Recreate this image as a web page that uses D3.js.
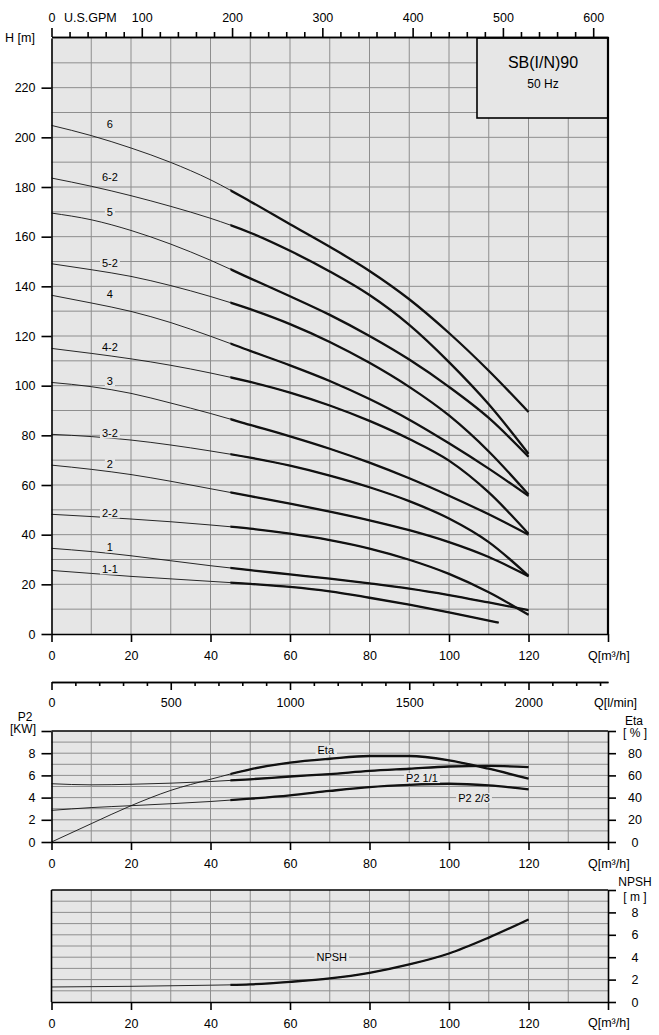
<!DOCTYPE html>
<html>
<head>
<meta charset="utf-8">
<script src="https://cdn.jsdelivr.net/npm/d3@7"></script>
<style>
body { margin: 0; background: #fff; }
svg text { font-family: "Liberation Sans", Arial, sans-serif; fill: #000; }
</style>
</head>
<body>
<div id="chart"></div>
<script>
const flow   = [0, 10, 20, 30, 40, 50, 60, 70, 80, 90, 100, 110, 120];
const flow11 = [0, 10, 20, 30, 40, 50, 60, 70, 80, 90, 100, 110, 112.5];

const head6   = [204.8, 200.7, 195.7, 189.9, 182.9, 174.2, 165.0, 155.9, 146.2, 134.8, 121.2, 106.0, 89.4];
const head6_2 = [183.6, 180.3, 176.5, 172.2, 167.4, 161.6, 154.3, 146.0, 136.5, 124.5, 109.5, 92.5, 72.6];
const head5   = [169.5, 166.8, 162.5, 157.0, 150.5, 143.2, 136.0, 128.5, 120.0, 110.5, 99.5, 87.0, 71.4];
const head5_2 = [149.1, 146.7, 144.0, 140.3, 135.9, 130.8, 124.8, 117.6, 109.2, 99.5, 88.0, 73.5, 56.2];
const head4   = [136.4, 133.3, 129.9, 125.4, 119.9, 114.0, 108.2, 101.9, 94.6, 86.3, 76.8, 66.6, 55.6];
const head4_2 = [115.0, 113.0, 110.8, 108.2, 105.1, 101.5, 97.2, 92.0, 85.8, 78.5, 69.8, 57.0, 40.4];
const head3   = [101.3, 99.6, 96.9, 93.0, 88.8, 84.2, 79.6, 74.6, 69.0, 62.7, 55.7, 48.2, 40.0];
const head3_2 = [80.4, 79.5, 78.1, 76.1, 73.7, 71.0, 67.8, 63.8, 59.1, 53.5, 46.5, 37.0, 23.4];
const head2   = [68.0, 66.3, 64.2, 61.5, 58.5, 55.5, 52.5, 49.3, 45.8, 41.8, 37.0, 31.0, 23.3];
const head2_2 = [48.2, 47.3, 46.3, 45.2, 43.9, 42.4, 40.4, 37.8, 34.4, 29.9, 24.2, 16.8, 7.7];
const head1   = [34.5, 33.2, 31.5, 29.5, 27.5, 25.7, 24.0, 22.3, 20.4, 18.3, 15.7, 12.7, 9.6];
const head1_1 = [25.6, 24.4, 23.2, 22.2, 21.2, 20.2, 19.0, 17.2, 14.6, 11.8, 8.7, 5.4, 4.6];

const curveNames = ["6", "6-2", "5", "5-2", "4", "4-2", "3", "3-2", "2", "2-2", "1", "1-1"];
const curveHeads = [head6, head6_2, head5, head5_2, head4, head4_2, head3, head3_2, head2, head2_2, head1, head1_1];

const eta         = [0, 16.5, 32.7, 46.5, 56.5, 65.5, 71.5, 75.0, 77.5, 77.5, 73.6, 66.0, 57.0];
const p2Full      = [5.25, 5.15, 5.2, 5.3, 5.45, 5.65, 5.9, 6.12, 6.4, 6.6, 6.8, 6.85, 6.75];
const p2TwoThirds = [2.85, 3.1, 3.27, 3.45, 3.65, 3.9, 4.2, 4.6, 4.95, 5.15, 5.25, 5.1, 4.75];
const npsh        = [1.34, 1.37, 1.4, 1.45, 1.5, 1.58, 1.8, 2.1, 2.6, 3.35, 4.33, 5.75, 7.37];

const flowTicks = [0, 20, 40, 60, 80, 100, 120, 140];
const gpmTicks  = [0, 100, 200, 300, 400, 500, 600];
const lpmTicks  = [0, 500, 1000, 1500, 2000];
const headTicks = [0, 20, 40, 60, 80, 100, 120, 140, 160, 180, 200, 220];
const p2Ticks   = [0, 2, 4, 6, 8, 10];
const etaTicks  = [0, 20, 40, 60, 80, 100];
const npshTicks = [0, 2, 4, 6, 8, 10];

const BG = "#e6e6e6";
const GRID = "#8e8e8e";
const FONT = "12.5px";

let svg = d3.select("#chart").append("svg")
    .attr("width", 659)
    .attr("height", 1035);

let x = d3.scaleLinear().domain([0, 140]).range([51.5, 608]);
let gpm = d3.scaleLinear().domain([0, 140 / 0.227125]).range([51.5, 608]);
let lpm = d3.scaleLinear().domain([0, 140 * 1000 / 60]).range([51.5, 608]);

let yHead = d3.scaleLinear().domain([0, 240]).range([634, 38]);
let yP2 = d3.scaleLinear().domain([0, 10]).range([842, 731]);
let yEta = d3.scaleLinear().domain([0, 100]).range([842, 731]);
let yNpsh = d3.scaleLinear().domain([0, 10]).range([1002, 890]);

// clip for the thick (operating range) part of each curve, from 45 m3/h
svg.append("defs").append("clipPath").attr("id", "thick")
    .append("rect")
    .attr("x", x(45)).attr("y", 0)
    .attr("width", x(140) - x(45)).attr("height", 1035);

function panel(yScale, hStep) {
    let y0 = yScale.range()[1], y1 = yScale.range()[0];
    let g = svg.append("g");
    g.append("rect")
        .attr("x", x(0)).attr("y", y0)
        .attr("width", x(140) - x(0)).attr("height", y1 - y0)
        .attr("fill", BG);
    let d = yScale.domain();
    g.selectAll(".hg").data(d3.range(d[0] + hStep, d[1], hStep)).enter()
        .append("line")
        .attr("x1", x(0)).attr("x2", x(140))
        .attr("y1", v => yScale(v)).attr("y2", v => yScale(v))
        .attr("stroke", GRID).attr("stroke-width", 1);
    g.selectAll(".vg").data(d3.range(10, 140, 10)).enter()
        .append("line")
        .attr("x1", v => x(v)).attr("x2", v => x(v))
        .attr("y1", y0).attr("y2", y1)
        .attr("stroke", GRID).attr("stroke-width", 1);
    return g;
}

function styleAxis(g) {
    g.selectAll("text").style("font-size", FONT).attr("fill", "#000");
    g.selectAll("text").filter(function() { return this.textContent === ""; }).remove();
    g.selectAll("line").attr("stroke", "#000").attr("stroke-width", 1.6);
    g.select(".domain").attr("stroke", "#000").attr("stroke-width", 1.6);
    return g;
}

function curve(g, qs, vals, yScale) {
    let line = d3.line()
        .x((d, i) => x(qs[i]))
        .y(d => yScale(d))
        .curve(d3.curveMonotoneX);
    g.append("path").attr("d", line(vals))
        .attr("fill", "none").attr("stroke", "#111").attr("stroke-width", 0.9);
    g.append("path").attr("d", line(vals))
        .attr("clip-path", "url(#thick)")
        .attr("fill", "none").attr("stroke", "#111").attr("stroke-width", 2.3);
}

function label(g, txt, cx, baseline, size) {
    let t = g.append("text")
        .attr("x", cx).attr("y", baseline)
        .attr("text-anchor", "middle")
        .style("font-size", size)
        .text(txt);
    let b = t.node().getBBox();
    g.insert("rect", "text")
        .attr("x", b.x - 2).attr("y", b.y + 1)
        .attr("width", b.width + 4).attr("height", b.height - 2)
        .attr("fill", BG);
}

function qLabel(xPos, baseline) {
    svg.append("text").attr("x", xPos).attr("y", baseline)
        .style("font-size", FONT).text("Q[m³/h]");
}

// ---------- head panel ----------
let headPanel = panel(yHead, 10);

let curvesG = svg.append("g");
curveHeads.forEach((h, i) => {
    curve(curvesG, curveNames[i] === "1-1" ? flow11 : flow, h, yHead);
});
curveHeads.forEach((h, i) => {
    label(curvesG, curveNames[i], x(14.7), yHead(h[0]) + 3, "11px");
});

// title box
svg.append("rect")
    .attr("x", 477).attr("y", 38).attr("width", x(140) - 477).attr("height", 80)
    .attr("fill", BG).attr("stroke", "#000").attr("stroke-width", 1.6);
svg.append("text").attr("x", 543).attr("y", 68).attr("text-anchor", "middle")
    .style("font-size", "16px").text("SB(I/N)90");
svg.append("text").attr("x", 543).attr("y", 88).attr("text-anchor", "middle")
    .style("font-size", "12px").text("50 Hz");

styleAxis(svg.append("g").attr("transform", "translate(0,634)")
    .call(d3.axisBottom(x).tickValues(flowTicks).tickSize(8).tickSizeOuter(0).tickPadding(9)
        .tickFormat(d => d === 140 ? "" : d)));
styleAxis(svg.append("g").attr("transform", "translate(51.5,0)")
    .call(d3.axisLeft(yHead).tickValues(headTicks).tickSize(10).tickSizeOuter(0).tickPadding(6)));
styleAxis(svg.append("g").attr("transform", "translate(0,37)")
    .call(d3.axisTop(gpm).tickValues(d3.range(0, 601, 20).filter(v => v % 100)).tickSize(5).tickSizeOuter(0).tickFormat("")));
styleAxis(svg.append("g").attr("transform", "translate(0,37)")
    .call(d3.axisTop(gpm).tickValues(gpmTicks).tickSize(9).tickSizeOuter(0).tickPadding(6)));
svg.append("text").attr("x", 64).attr("y", 22).style("font-size", FONT).text("U.S.GPM");
svg.append("text").attr("x", 5).attr("y", 42).style("font-size", FONT).text("H [m]");
svg.append("line").attr("x1", x(140)).attr("x2", x(140)).attr("y1", 37).attr("y2", 634)
    .attr("stroke", "#000").attr("stroke-width", 2.2);
qLabel(588, 660);

// ---------- l/min axis ----------
styleAxis(svg.append("g").attr("transform", "translate(0,682)")
    .call(d3.axisBottom(lpm).tickValues(d3.range(100, 2400, 100).filter(v => v % 500)).tickSize(4).tickSizeOuter(0).tickFormat("")));
styleAxis(svg.append("g").attr("transform", "translate(0,682)")
    .call(d3.axisBottom(lpm).tickValues(lpmTicks).tickSize(8).tickSizeOuter(0).tickPadding(8)
        .tickFormat(d3.format("d"))));
svg.append("text").attr("x", 594).attr("y", 707).style("font-size", FONT).text("Q[l/min]");

// ---------- P2 / Eta panel ----------
let mid = panel(yP2, 1);
curve(mid, flow, p2TwoThirds, yP2);
curve(mid, flow, p2Full, yP2);
curve(mid, flow, eta, yEta);
label(mid, "Eta", x(69), yEta(79.3), "11px");
label(mid, "P2 1/1", x(93.2), yP2(5.4), "11px");
label(mid, "P2 2/3", x(106.3), yP2(3.6), "11px");

styleAxis(svg.append("g").attr("transform", "translate(0,842)")
    .call(d3.axisBottom(x).tickValues(flowTicks).tickSize(8).tickSizeOuter(0).tickPadding(9)
        .tickFormat(d => d === 140 ? "" : d)));
styleAxis(svg.append("g").attr("transform", "translate(51.5,0)")
    .call(d3.axisLeft(yP2).tickValues(p2Ticks).tickSize(10).tickSizeOuter(0).tickPadding(6)
        .tickFormat(d => d === 10 ? "" : d)));
let etaAxis = styleAxis(svg.append("g").attr("transform", "translate(608,0)")
    .call(d3.axisRight(yEta).tickValues(etaTicks).tickSize(8).tickSizeOuter(0).tickPadding(19)
        .tickFormat(d => d === 100 ? "" : d)));
etaAxis.selectAll("text").attr("text-anchor", "middle");
svg.append("line").attr("x1", x(0)).attr("x2", x(140)).attr("y1", 731).attr("y2", 731)
    .attr("stroke", "#000").attr("stroke-width", 1.6);
svg.append("text").attr("x", 25).attr("y", 721).attr("text-anchor", "middle").style("font-size", "12px").text("P2");
svg.append("text").attr("x", 23).attr("y", 733).attr("text-anchor", "middle").style("font-size", "12px").text("[KW]");
svg.append("text").attr("x", 634).attr("y", 725).attr("text-anchor", "middle").style("font-size", "12px").text("Eta");
svg.append("text").attr("x", 635).attr("y", 737).attr("text-anchor", "middle").style("font-size", "12px").text("[ % ]");
qLabel(588, 868);

// ---------- NPSH panel ----------
let bot = panel(yNpsh, 1);
curve(bot, flow, npsh, yNpsh);
label(bot, "NPSH", x(70.5), yNpsh(3.7), "11px");

styleAxis(svg.append("g").attr("transform", "translate(0,1002)")
    .call(d3.axisBottom(x).tickValues(flowTicks).tickSize(8).tickSizeOuter(0).tickPadding(9)
        .tickFormat(d => d === 140 ? "" : d)));
let npshAxis = styleAxis(svg.append("g").attr("transform", "translate(608,0)")
    .call(d3.axisRight(yNpsh).tickValues(npshTicks).tickSize(8).tickSizeOuter(0).tickPadding(19)
        .tickFormat(d => d === 10 ? "" : d)));
npshAxis.selectAll("text").attr("text-anchor", "middle");
svg.append("line").attr("x1", x(0)).attr("x2", x(140)).attr("y1", 890).attr("y2", 890)
    .attr("stroke", "#000").attr("stroke-width", 1.6);
svg.append("line").attr("x1", x(0)).attr("x2", x(0)).attr("y1", 890).attr("y2", 1002)
    .attr("stroke", "#000").attr("stroke-width", 1.6);
svg.append("text").attr("x", 635).attr("y", 886).attr("text-anchor", "middle").style("font-size", "12px").text("NPSH");
svg.append("text").attr("x", 635).attr("y", 901).attr("text-anchor", "middle").style("font-size", "12px").text("[ m ]");
qLabel(588, 1027);
</script>
</body>
</html>
